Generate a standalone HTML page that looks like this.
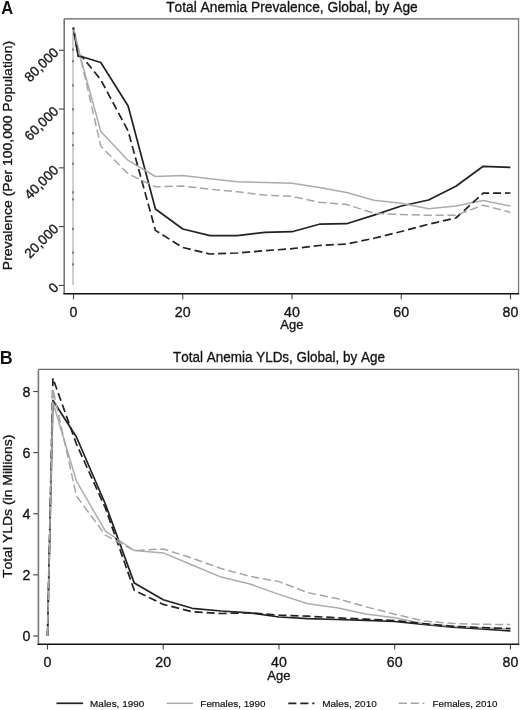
<!DOCTYPE html><html><head><meta charset="utf-8"><style>html,body{margin:0;padding:0;background:#fff;}svg{display:block;will-change:transform;}text{font-kerning:none;stroke:#141414;stroke-width:0.32px;}text[font-weight]{stroke:none;}</style></head><body>
<svg width="520" height="710" viewBox="0 0 520 710" font-family="Liberation Sans, sans-serif">
<rect width="520" height="710" fill="#fff"/>
<text x="1.17" y="13.8" font-size="17.5" textLength="11.87" lengthAdjust="spacingAndGlyphs" fill="#141414" font-weight="bold">A</text>
<text x="166.19" y="11.9" font-size="14" textLength="251.52" lengthAdjust="spacingAndGlyphs" fill="#141414" >Total Anemia Prevalence, Global, by Age</text>
<line x1="64.2" y1="18.9" x2="519.1" y2="18.9" stroke="#5e5e5e" stroke-width="1.3"/><line x1="518.55" y1="18.9" x2="518.55" y2="293.5" stroke="#787878" stroke-width="1.3"/>
<line x1="64.2" y1="19" x2="64.2" y2="294" stroke="#777" stroke-width="1.6"/>
<line x1="63.4" y1="293.7" x2="519.2" y2="293.7" stroke="#111" stroke-width="1.5"/>
<line x1="58.9" y1="285.40" x2="64" y2="285.40" stroke="#444" stroke-width="1.1"/>
<text transform="translate(59.40 288.40) rotate(-45)" x="0" y="0" font-size="13.6" text-anchor="end" fill="#141414">0</text>
<line x1="58.9" y1="226.62" x2="64" y2="226.62" stroke="#444" stroke-width="1.1"/>
<text transform="translate(59.40 229.62) rotate(-45)" x="0" y="0" font-size="13.6" text-anchor="end" fill="#141414">20,000</text>
<line x1="58.9" y1="167.85" x2="64" y2="167.85" stroke="#444" stroke-width="1.1"/>
<text transform="translate(59.40 170.85) rotate(-45)" x="0" y="0" font-size="13.6" text-anchor="end" fill="#141414">40,000</text>
<line x1="58.9" y1="109.07" x2="64" y2="109.07" stroke="#444" stroke-width="1.1"/>
<text transform="translate(59.40 112.07) rotate(-45)" x="0" y="0" font-size="13.6" text-anchor="end" fill="#141414">60,000</text>
<line x1="58.9" y1="50.30" x2="64" y2="50.30" stroke="#444" stroke-width="1.1"/>
<text transform="translate(59.40 53.30) rotate(-45)" x="0" y="0" font-size="13.6" text-anchor="end" fill="#141414">80,000</text>
<line x1="73.50" y1="294" x2="73.50" y2="299.3" stroke="#444" stroke-width="1.1"/>
<text x="73.50" y="316.8" font-size="14.2" text-anchor="middle" fill="#141414">0</text>
<line x1="182.75" y1="294" x2="182.75" y2="299.3" stroke="#444" stroke-width="1.1"/>
<text x="182.75" y="316.8" font-size="14.2" text-anchor="middle" fill="#141414">20</text>
<line x1="292.00" y1="294" x2="292.00" y2="299.3" stroke="#444" stroke-width="1.1"/>
<text x="292.00" y="316.8" font-size="14.2" text-anchor="middle" fill="#141414">40</text>
<line x1="401.25" y1="294" x2="401.25" y2="299.3" stroke="#444" stroke-width="1.1"/>
<text x="401.25" y="316.8" font-size="14.2" text-anchor="middle" fill="#141414">60</text>
<line x1="510.50" y1="294" x2="510.50" y2="299.3" stroke="#444" stroke-width="1.1"/>
<text x="510.50" y="316.8" font-size="14.2" text-anchor="middle" fill="#141414">80</text>
<text x="280.27" y="329" font-size="13.5" textLength="23.10" lengthAdjust="spacingAndGlyphs" fill="#141414" >Age</text>
<text transform="translate(11.8 269) rotate(-90)" x="-1.15" y="0" font-size="13.7" textLength="229.21" lengthAdjust="spacingAndGlyphs" fill="#141414" >Prevalence (Per 100,000 Population)</text>
<line x1="73" y1="28.5" x2="73" y2="285" stroke="#c2c2c2" stroke-width="1.6"/>
<rect x="72.2" y="48.5" width="1.6" height="2.2" fill="#6a6a6a"/>
<rect x="72.2" y="60.0" width="1.6" height="2.2" fill="#6a6a6a"/>
<rect x="72.2" y="84.3" width="1.6" height="2.2" fill="#6a6a6a"/>
<rect x="72.2" y="108.2" width="1.6" height="2.2" fill="#6a6a6a"/>
<rect x="72.2" y="132.1" width="1.6" height="2.2" fill="#6a6a6a"/>
<rect x="72.2" y="144.1" width="1.6" height="2.2" fill="#6a6a6a"/>
<rect x="72.2" y="162.7" width="1.6" height="2.2" fill="#6a6a6a"/>
<rect x="72.2" y="191.3" width="1.6" height="2.2" fill="#6a6a6a"/>
<rect x="72.2" y="198.2" width="1.6" height="2.2" fill="#6a6a6a"/>
<rect x="72.2" y="227.8" width="1.6" height="2.2" fill="#6a6a6a"/>
<rect x="72.2" y="251.5" width="1.6" height="2.2" fill="#6a6a6a"/>
<rect x="72.2" y="263.3" width="1.6" height="2.2" fill="#6a6a6a"/>
<polyline fill="none" stroke-linejoin="round" stroke="#222" stroke-width="1.7" points="73.40,28.20 78.20,56.20 82.10,56.70 100.81,62.50 128.12,106.00 155.44,209.00 182.75,229.00 210.06,235.70 237.38,235.70 264.69,232.40 292.00,231.70 319.31,224.20 346.62,223.70 373.94,215.10 401.25,206.00 428.56,200.00 455.88,186.20 483.19,166.30 510.50,167.40"/>
<polyline fill="none" stroke-linejoin="round" stroke="#acacac" stroke-width="1.5" points="73.40,28.20 80.40,57.10 100.81,131.50 128.12,160.40 155.44,176.50 182.75,175.60 210.06,178.80 237.38,181.70 264.69,182.40 292.00,183.30 319.31,187.60 346.62,192.50 373.94,200.20 401.25,203.30 428.56,208.80 455.88,206.10 483.19,200.50 510.50,206.10"/>
<polyline fill="none" stroke-linejoin="round" stroke="#222" stroke-width="1.7" stroke-dasharray="8.1 3.9" stroke-dashoffset="-3.5" points="73.40,28.20 78.20,56.20 82.10,56.70 100.81,79.80 128.12,131.00 155.44,230.40 182.75,247.50 210.06,254.00 237.38,253.00 264.69,250.70 292.00,248.70 319.31,245.50 346.62,244.00 373.94,238.30 401.25,231.50 428.56,224.20 455.88,218.00 483.19,193.20 510.50,193.00"/>
<polyline fill="none" stroke-linejoin="round" stroke="#a6a6a6" stroke-width="1.5" stroke-dasharray="8.2 3.7" stroke-dashoffset="3.0" points="73.40,28.20 80.40,57.10 100.81,146.30 128.12,173.80 155.44,186.80 182.75,186.00 210.06,189.20 237.38,191.80 264.69,195.10 292.00,196.40 319.31,202.30 346.62,204.50 373.94,213.30 401.25,214.50 428.56,215.30 455.88,215.30 483.19,205.20 510.50,212.40"/>
<circle cx="73.4" cy="28.4" r="1.1" fill="#222"/>
<text x="-0.39" y="364.2" font-size="17.5" textLength="12.91" lengthAdjust="spacingAndGlyphs" fill="#141414" font-weight="bold">B</text>
<text x="173.00" y="362.3" font-size="14" textLength="212.00" lengthAdjust="spacingAndGlyphs" fill="#141414" >Total Anemia YLDs, Global, by Age</text>
<line x1="38.4" y1="369.45" x2="519.1" y2="369.45" stroke="#6a6a6a" stroke-width="1.25"/><line x1="518.55" y1="369.45" x2="518.55" y2="644" stroke="#787878" stroke-width="1.3"/>
<line x1="38.4" y1="369.6" x2="38.4" y2="645" stroke="#777" stroke-width="1.6"/>
<line x1="37.6" y1="644.3" x2="519.3" y2="644.3" stroke="#111" stroke-width="1.5"/>
<line x1="33.2" y1="636.00" x2="38" y2="636.00" stroke="#444" stroke-width="1.1"/>
<text x="30.5" y="641.00" font-size="14.2" text-anchor="end" fill="#141414">0</text>
<line x1="33.2" y1="574.89" x2="38" y2="574.89" stroke="#444" stroke-width="1.1"/>
<text x="30.5" y="579.89" font-size="14.2" text-anchor="end" fill="#141414">2</text>
<line x1="33.2" y1="513.77" x2="38" y2="513.77" stroke="#444" stroke-width="1.1"/>
<text x="30.5" y="518.77" font-size="14.2" text-anchor="end" fill="#141414">4</text>
<line x1="33.2" y1="452.66" x2="38" y2="452.66" stroke="#444" stroke-width="1.1"/>
<text x="30.5" y="457.66" font-size="14.2" text-anchor="end" fill="#141414">6</text>
<line x1="33.2" y1="391.55" x2="38" y2="391.55" stroke="#444" stroke-width="1.1"/>
<text x="30.5" y="396.55" font-size="14.2" text-anchor="end" fill="#141414">8</text>
<line x1="47.50" y1="645" x2="47.50" y2="649.5" stroke="#444" stroke-width="1.1"/>
<text x="47.50" y="666.7" font-size="14.2" text-anchor="middle" fill="#141414">0</text>
<line x1="163.22" y1="645" x2="163.22" y2="649.5" stroke="#444" stroke-width="1.1"/>
<text x="163.22" y="666.7" font-size="14.2" text-anchor="middle" fill="#141414">20</text>
<line x1="278.95" y1="645" x2="278.95" y2="649.5" stroke="#444" stroke-width="1.1"/>
<text x="278.95" y="666.7" font-size="14.2" text-anchor="middle" fill="#141414">40</text>
<line x1="394.68" y1="645" x2="394.68" y2="649.5" stroke="#444" stroke-width="1.1"/>
<text x="394.68" y="666.7" font-size="14.2" text-anchor="middle" fill="#141414">60</text>
<line x1="510.40" y1="645" x2="510.40" y2="649.5" stroke="#444" stroke-width="1.1"/>
<text x="510.40" y="666.7" font-size="14.2" text-anchor="middle" fill="#141414">80</text>
<text x="267.27" y="679.7" font-size="13.6" textLength="23.10" lengthAdjust="spacingAndGlyphs" fill="#141414" >Age</text>
<text transform="translate(11.6 577.6) rotate(-90)" x="-0.31" y="0" font-size="13.7" textLength="143.28" lengthAdjust="spacingAndGlyphs" fill="#141414" >Total YLDs (in Millions)</text>
<polyline fill="none" stroke-linejoin="round" stroke="#222" stroke-width="1.7" points="47.50,636.00 52.90,400.30 76.43,437.00 105.36,504.00 134.29,583.10 163.22,599.70 192.16,608.30 221.09,611.00 250.02,612.80 278.95,617.00 307.88,618.60 336.81,619.50 365.74,620.30 394.68,621.50 423.61,624.50 452.54,627.20 481.47,629.00 510.40,631.00"/>
<polyline fill="none" stroke-linejoin="round" stroke="#acacac" stroke-width="1.5" points="47.50,636.00 52.90,402.30 76.43,481.00 105.36,531.20 134.29,550.50 163.22,552.90 192.16,565.00 221.09,577.10 250.02,584.00 278.95,594.40 307.88,603.80 336.81,607.80 365.74,614.00 394.68,617.70 423.61,623.70 452.54,626.30 481.47,627.70 510.40,629.00"/>
<polyline fill="none" stroke-linejoin="round" stroke="#222" stroke-width="1.7" stroke-dasharray="8.1 3.9" stroke-dashoffset="2.3" points="47.50,636.00 52.90,378.20 76.43,444.00 105.36,508.00 134.29,590.40 163.22,604.40 192.16,611.70 221.09,613.50 250.02,612.80 278.95,615.20 307.88,616.20 336.81,617.80 365.74,619.20 394.68,620.50 423.61,623.70 452.54,626.30 481.47,627.70 510.40,628.50"/>
<polyline fill="none" stroke-linejoin="round" stroke="#a6a6a6" stroke-width="1.5" stroke-dasharray="8.2 3.7" points="47.50,636.00 52.90,389.00 76.43,496.00 105.36,535.20 134.29,550.50 163.22,549.00 192.16,558.10 221.09,568.50 250.02,576.40 278.95,581.60 307.88,592.70 336.81,598.50 365.74,606.80 394.68,614.20 423.61,621.00 452.54,623.50 481.47,624.30 510.40,624.50"/>
<line x1="56.5" y1="703.3" x2="83.1" y2="703.3" stroke="#222" stroke-width="1.7"/>
<text x="90.08" y="707.2" font-size="9.6" textLength="54.20" lengthAdjust="spacingAndGlyphs" fill="#141414" style="stroke-width:0.2px">Males, 1990</text>
<line x1="166.7" y1="703.3" x2="193.1" y2="703.3" stroke="#acacac" stroke-width="1.5"/>
<text x="200.39" y="707.2" font-size="9.6" textLength="65.19" lengthAdjust="spacingAndGlyphs" fill="#141414" style="stroke-width:0.2px">Females, 1990</text>
<line x1="288.3" y1="703.3" x2="314.4" y2="703.3" stroke="#222" stroke-width="1.7" stroke-dasharray="8.1 3.9"/>
<text x="322.18" y="707.2" font-size="9.6" textLength="54.61" lengthAdjust="spacingAndGlyphs" fill="#141414" style="stroke-width:0.2px">Males, 2010</text>
<line x1="398.8" y1="703.3" x2="424.4" y2="703.3" stroke="#a6a6a6" stroke-width="1.5" stroke-dasharray="8.2 3.7"/>
<text x="432.49" y="707.2" font-size="9.6" textLength="64.99" lengthAdjust="spacingAndGlyphs" fill="#141414" style="stroke-width:0.2px">Females, 2010</text>
</svg></body></html>
